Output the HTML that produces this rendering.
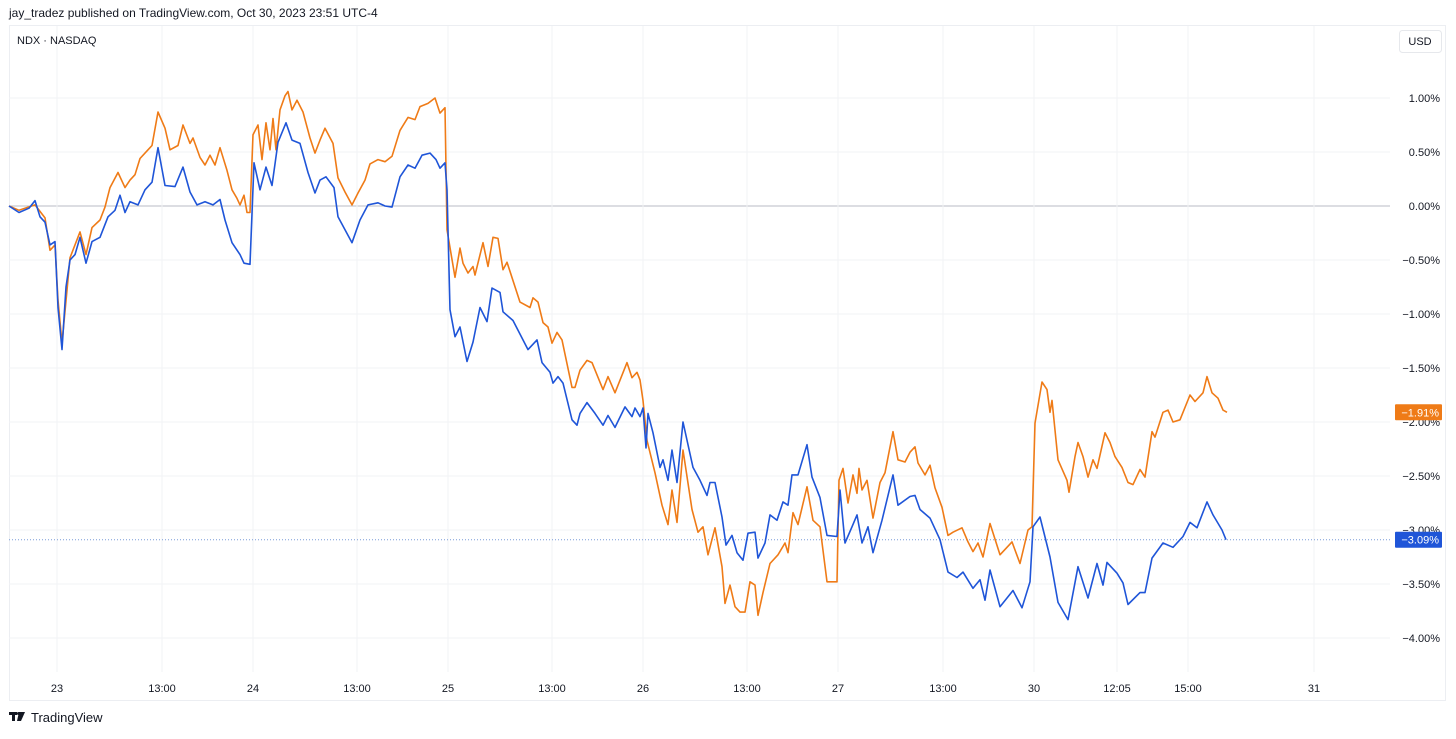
<!DOCTYPE html>
<html><head><meta charset="utf-8">
<style>
html,body{margin:0;padding:0;background:#fff;}
body{width:1456px;height:734px;overflow:hidden;font-family:"Liberation Sans",sans-serif;}
svg text{font-family:"Liberation Sans",sans-serif;}
</style></head>
<body>
<svg id="chart" width="1456" height="734" viewBox="0 0 1456 734">
  <text x="9" y="17" font-size="12" fill="#131722">jay_tradez published on TradingView.com, Oct 30, 2023 23:51 UTC-4</text>
  <rect x="9.5" y="25.5" width="1436" height="675" fill="none" stroke="#eceef2"/>
  <g id="grid"></g>
  <g id="series"></g>
  <g id="yaxis"></g>
  <g id="xaxis"></g>
  <text x="17" y="44" font-size="11" fill="#131722">NDX · NASDAQ</text>
  <g>
    <rect x="1399.5" y="30.5" width="42" height="22" rx="3" fill="#fff" stroke="#e6e8ec"/>
    <text x="1420" y="45" font-size="11" fill="#131722" text-anchor="middle">USD</text>
  </g>
  <g>
    <rect x="9" y="712" width="8" height="3" fill="#131722"/><rect x="12" y="712" width="3" height="9" fill="#131722"/>
    <polygon points="19,712 25,712 21,721 17,721" fill="#131722"/>
    <circle cx="18.5" cy="713.5" r="1.5" fill="#131722"/>
    <text x="31" y="722" font-size="13" fill="#131722">TradingView</text>
  </g>
</svg>
<script>
const yTicks = [1, 0.5, 0, -0.5, -1, -1.5, -2, -2.5, -3, -3.5, -4];
const xTickBars = [48, 153, 244, 348, 439, 543, 634, 738, 829, 934, 1025, 1108, 1179, 1305];
const xTickLabels = ["23","13:00","24","13:00","25","13:00","26","13:00","27","13:00","30","12:05","15:00","31"];

const blueBars = [0,10,20,26,31,36,41,46,49,53,57,61,66,71,77,83,91,99,106,111,116,121,129,136,143,149,156,166,174,181,188,196,204,211,216,223,231,235,241,245,251,257,263,269,277,283,291,299,306,311,317,325,329,336,343,351,359,369,376,383,391,399,406,413,421,427,431,436,438,441,446,451,458,464,471,478,483,491,494,504,519,528,533,541,544,549,554,563,568,571,578,586,594,599,606,616,623,626,631,634,637,639,644,651,654,659,663,668,674,684,691,698,701,706,713,717,723,728,734,739,746,749,756,761,768,774,779,783,789,798,803,811,818,828,831,836,843,848,853,859,864,873,884,889,901,906,911,921,931,939,948,954,964,971,976,981,991,1004,1013,1021,1024,1031,1041,1049,1059,1069,1079,1088,1094,1098,1108,1114,1119,1131,1136,1143,1154,1164,1174,1181,1188,1198,1204,1213,1217];
const blueValues = [0,-0.06,-0.02,0.05,-0.10,-0.15,-0.36,-0.33,-0.94,-1.33,-0.75,-0.50,-0.45,-0.29,-0.53,-0.33,-0.29,-0.10,-0.04,0.10,-0.06,0.04,0.01,0.15,0.22,0.54,0.19,0.18,0.36,0.13,0.01,0.04,0.01,0.06,-0.13,-0.34,-0.45,-0.53,-0.54,0.40,0.15,0.36,0.19,0.59,0.77,0.61,0.58,0.31,0.12,0.24,0.27,0.17,-0.10,-0.22,-0.34,-0.13,0.01,0.03,0,-0.01,0.27,0.38,0.35,0.47,0.49,0.43,0.35,0.40,0.15,-0.96,-1.21,-1.12,-1.44,-1.26,-0.94,-1.07,-0.76,-0.80,-0.98,-1.06,-1.33,-1.24,-1.45,-1.54,-1.64,-1.58,-1.64,-1.98,-2.03,-1.92,-1.82,-1.92,-2.03,-1.94,-2.05,-1.86,-1.95,-1.87,-1.95,-1.87,-2.24,-1.92,-2.10,-2.42,-2.35,-2.54,-2.26,-2.56,-2.00,-2.42,-2.54,-2.68,-2.56,-2.56,-2.88,-3.14,-3.05,-3.21,-3.28,-3.03,-3.02,-3.26,-3.12,-2.86,-2.91,-2.74,-2.77,-2.49,-2.49,-2.21,-2.51,-2.70,-3.05,-3.06,-2.63,-3.12,-2.97,-2.86,-3.12,-2.97,-3.21,-2.91,-2.49,-2.77,-2.69,-2.68,-2.81,-2.89,-3.09,-3.39,-3.44,-3.39,-3.54,-3.46,-3.65,-3.37,-3.71,-3.56,-3.72,-3.48,-2.97,-2.88,-3.25,-3.67,-3.83,-3.34,-3.63,-3.31,-3.51,-3.30,-3.40,-3.49,-3.69,-3.58,-3.58,-3.26,-3.12,-3.16,-3.06,-2.93,-2.98,-2.74,-2.86,-3.00,-3.09];

const orangeBars = [0,10,26,36,41,46,49,53,58,61,71,77,83,91,96,101,109,116,121,126,131,139,143,149,156,161,169,174,181,184,191,196,201,206,211,218,223,228,231,235,238,241,244,249,253,257,261,264,267,271,276,279,283,288,294,301,306,311,316,324,329,336,343,349,356,361,369,376,383,391,399,406,411,419,426,431,436,438,446,451,454,459,464,466,474,479,484,489,494,498,511,521,524,529,534,539,543,548,553,563,566,571,578,583,594,599,606,618,623,628,631,634,638,646,653,659,663,668,674,683,689,694,699,706,713,716,721,726,731,736,741,746,749,754,761,769,776,779,784,789,798,804,811,818,828,830,834,839,844,848,850,853,858,864,871,876,884,889,896,901,906,909,916,921,926,933,939,944,953,959,964,969,974,981,991,1003,1011,1019,1023,1026,1033,1038,1041,1043,1049,1058,1060,1066,1069,1074,1079,1084,1088,1096,1101,1106,1113,1119,1124,1131,1136,1143,1146,1154,1159,1164,1171,1181,1186,1194,1198,1203,1209,1214,1218];
const orangeValues = [0,-0.04,0.01,-0.11,-0.41,-0.36,-0.87,-1.27,-0.78,-0.48,-0.24,-0.45,-0.20,-0.13,-0.01,0.17,0.31,0.17,0.24,0.29,0.44,0.52,0.56,0.87,0.72,0.52,0.56,0.75,0.58,0.63,0.45,0.38,0.47,0.38,0.54,0.33,0.15,0.07,0.01,0.10,-0.06,-0.06,0.66,0.75,0.43,0.77,0.52,0.81,0.52,0.89,1.02,1.06,0.89,0.98,0.87,0.63,0.49,0.61,0.72,0.58,0.26,0.13,0.01,0.12,0.24,0.39,0.43,0.41,0.46,0.70,0.82,0.80,0.92,0.95,1.00,0.86,0.91,-0.22,-0.66,-0.39,-0.53,-0.62,-0.56,-0.64,-0.34,-0.56,-0.29,-0.30,-0.59,-0.52,-0.89,-0.94,-0.85,-0.89,-1.08,-1.12,-1.27,-1.17,-1.24,-1.68,-1.68,-1.52,-1.43,-1.45,-1.70,-1.58,-1.73,-1.45,-1.59,-1.54,-1.61,-1.80,-2.17,-2.47,-2.77,-2.95,-2.63,-2.93,-2.26,-2.81,-3.02,-2.97,-3.23,-2.98,-3.34,-3.68,-3.51,-3.71,-3.76,-3.76,-3.48,-3.51,-3.79,-3.58,-3.31,-3.23,-3.12,-3.21,-2.84,-2.95,-2.60,-2.91,-2.97,-3.48,-3.48,-2.54,-2.43,-2.75,-2.49,-2.66,-2.43,-2.63,-2.54,-2.89,-2.56,-2.47,-2.09,-2.35,-2.37,-2.28,-2.23,-2.38,-2.49,-2.40,-2.61,-2.79,-3.05,-3.02,-2.98,-3.11,-3.20,-3.12,-3.25,-2.94,-3.23,-3.11,-3.31,-3.00,-2.97,-2.01,-1.63,-1.70,-1.91,-1.80,-2.35,-2.54,-2.65,-2.32,-2.19,-2.32,-2.51,-2.35,-2.43,-2.10,-2.19,-2.32,-2.42,-2.56,-2.58,-2.44,-2.51,-2.09,-2.14,-1.91,-1.89,-2.00,-1.98,-1.75,-1.81,-1.73,-1.58,-1.73,-1.78,-1.89,-1.91];

const NS = "http://www.w3.org/2000/svg";
const plotLeft = 9, plotRight = 1390, plotTop = 26, plotBottom = 672;
const xScale = b => 9 + b;
const yScale = v => 206 - v * 108;
function mk(tag, attrs, parent){ const e = document.createElementNS(NS, tag); for (const k in attrs) e.setAttribute(k, attrs[k]); parent.appendChild(e); return e; }
const grid = document.getElementById('grid'), yaxis = document.getElementById('yaxis'), xaxis = document.getElementById('xaxis'), series = document.getElementById('series');

yTicks.forEach(v => {
  const y = yScale(v);
  const gl = mk('line', {x1: plotLeft, x2: plotRight, y1: y, y2: y, stroke: v === 0 ? '#b8bbc4' : '#f2f3f5', 'stroke-width': 1}, grid);
  
  
  const t = mk('text', {x: 1440, y: y + 4, 'font-size': 11, fill: '#131722', 'text-anchor': 'end'}, yaxis);
  t.textContent = (v < 0 ? '\u2212' + Math.abs(v).toFixed(2) : v.toFixed(2)) + '%';
  
  
});
xTickBars.forEach((b, i) => {
  const x = xScale(b);
  const gl = mk('line', {x1: x, x2: x, y1: plotTop, y2: plotBottom, stroke: '#f2f3f5', 'stroke-width': 1}, grid);
  
  
  const t = mk('text', {x: x, y: 692, 'font-size': 11, fill: '#131722', 'text-anchor': 'middle'}, xaxis);
  t.textContent = xTickLabels[i];
  
  
});

function drawLine(bars, vals, color, name){
  const d = bars.map((b, i) => (i ? 'L' : 'M') + xScale(b).toFixed(1) + ',' + yScale(vals[i]).toFixed(1)).join('');
  const p = mk('path', {d: d, fill: 'none', stroke: color, 'stroke-width': 1.6, 'stroke-linejoin': 'round'}, series);
  
  
}
drawLine(orangeBars, orangeValues, '#ef7b17', 'orange-series-line');
drawLine(blueBars, blueValues, '#1f55d8', 'blue-series-line');

const lastB = blueValues[blueValues.length - 1], lastO = orangeValues[orangeValues.length - 1];
const dl = mk('line', {x1: plotLeft, x2: plotRight, y1: yScale(lastB), y2: yScale(lastB), stroke: '#7a9bd8', 'stroke-width': 1, 'stroke-dasharray': '1,2'}, grid);



function badge(v, color, name){
  const y = yScale(v);
  const g = mk('g', {}, yaxis);
  
  
  mk('rect', {x: 1395, y: y - 8, width: 47, height: 16, fill: color, rx: 1}, g);
  const t = mk('text', {x: 1439, y: y + 4, 'font-size': 11, fill: '#fff', 'text-anchor': 'end'}, g);
  t.textContent = '\u2212' + Math.abs(v).toFixed(2) + '%';
}
badge(lastO, '#ef7b17', 'orange-last-value-badge');
badge(lastB, '#1f55d8', 'blue-last-value-badge');
</script>
</body></html>
